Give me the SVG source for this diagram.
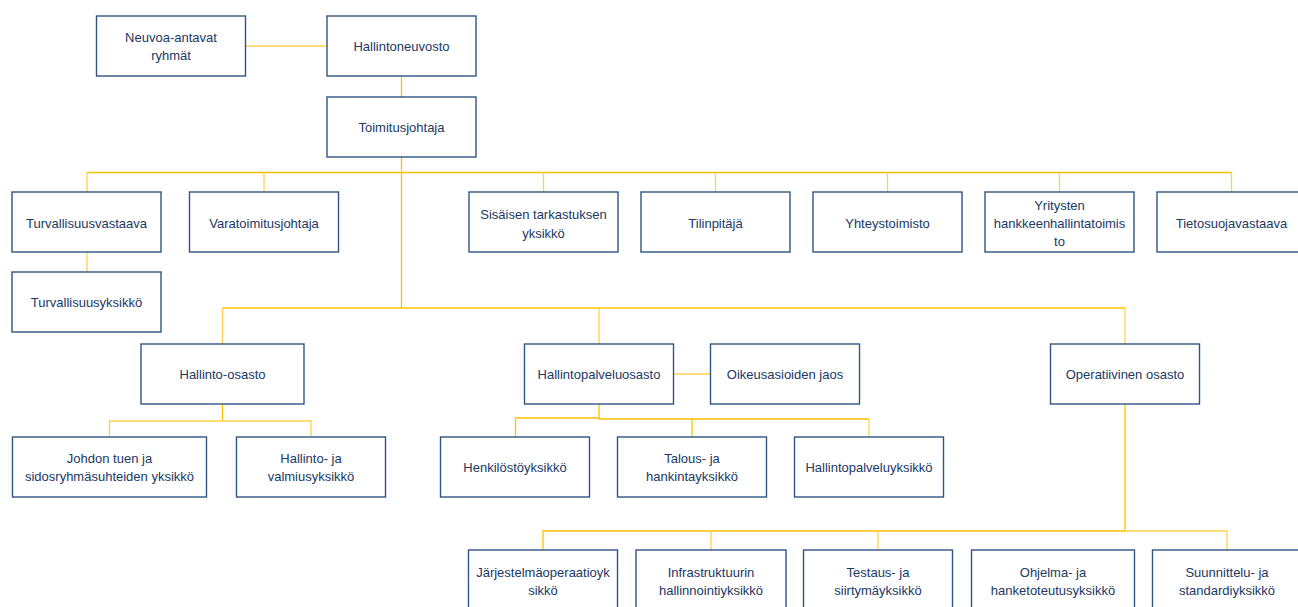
<svg xmlns="http://www.w3.org/2000/svg" width="1298" height="607" viewBox="0 0 1298 607">
<style>
.box{fill:#ffffff;stroke:#2E5482;stroke-width:1.4}
.t{font-family:"Liberation Sans",Arial,sans-serif;font-size:13px;fill:#203864;text-anchor:middle}
.c{fill:none;stroke:#FFC000;stroke-width:1.3}
.cl{fill:none;stroke:#FFD24D;stroke-width:1.3}
</style>
<rect width="1298" height="607" fill="#ffffff"/>
<g id="connectors">
<path class="cl" d="M245.5,46H327"/>
<path class="c" d="M401.5,76V97"/>
<path class="c" d="M401.5,157V308"/>
<path class="c" d="M87,172.5H1232"/>
<path class="cl" d="M87,172.5V192M264,172.5V192M543.5,172.5V192M715.5,172.5V192M887.5,172.5V192M1059.5,172.5V192M1231.5,172.5V192"/>
<path class="cl" d="M87,252V272"/>
<path class="c" d="M222.5,308H1125"/>
<path class="cl" d="M222.5,308V344M599,308V344M1125,308V344"/>
<path class="c" d="M222.5,404V421"/>
<path class="cl" d="M109.5,437V421H311V437"/>
<path class="c" d="M599,404V419H869"/>
<path class="c" d="M515.5,437V418H599"/>
<path class="c" d="M692,419V437"/>
<path class="cl" d="M869,419V437"/>
<path class="cl" d="M673.5,374H710.5"/>
<path class="c" d="M1125,404V531H543V550"/>
<path class="cl" d="M711,531V550M878,531V550M1125,531H1227V550"/>
</g>
<g id="n_neuvoa"><rect class="box" x="96.5" y="16" width="149" height="60"/><text class="t" x="171" y="42">Neuvoa-antavat</text><text class="t" x="171" y="60">ryhmät</text></g>
<g id="n_hallintoneuvosto"><rect class="box" x="327" y="16" width="149" height="60"/><text class="t" x="401.5" y="51">Hallintoneuvosto</text></g>
<g id="n_toimitusjohtaja"><rect class="box" x="327" y="97" width="149" height="60"/><text class="t" x="401.5" y="132">Toimitusjohtaja</text></g>
<g id="n_turvallisuusvastaava"><rect class="box" x="12" y="192" width="149" height="60"/><text class="t" x="86.5" y="228">Turvallisuusvastaava</text></g>
<g id="n_varatoimitusjohtaja"><rect class="box" x="189.5" y="192" width="149" height="60"/><text class="t" x="264" y="228">Varatoimitusjohtaja</text></g>
<g id="n_sisaisen"><rect class="box" x="469" y="192" width="149" height="60"/><text class="t" x="543.5" y="219">Sisäisen tarkastuksen</text><text class="t" x="543.5" y="237.5">yksikkö</text></g>
<g id="n_tilinpitaja"><rect class="box" x="641" y="192" width="149" height="60"/><text class="t" x="715.5" y="228">Tilinpitäjä</text></g>
<g id="n_yhteystoimisto"><rect class="box" x="813" y="192" width="149" height="60"/><text class="t" x="887.5" y="228">Yhteystoimisto</text></g>
<g id="n_yritysten"><rect class="box" x="985" y="192" width="149" height="60"/><text class="t" x="1059.5" y="210">Yritysten</text><text class="t" x="1059.5" y="228">hankkeenhallintatoimis</text><text class="t" x="1059.5" y="246">to</text></g>
<g id="n_tietosuojavastaava"><rect class="box" x="1157" y="192" width="149" height="60"/><text class="t" x="1231.5" y="228">Tietosuojavastaava</text></g>
<g id="n_turvallisuusyksikko"><rect class="box" x="12" y="272" width="149" height="60"/><text class="t" x="86.5" y="307">Turvallisuusyksikkö</text></g>
<g id="n_hallinto_osasto"><rect class="box" x="141" y="344" width="163" height="60"/><text class="t" x="222.5" y="379">Hallinto-osasto</text></g>
<g id="n_hallintopalveluosasto"><rect class="box" x="524.5" y="344" width="149" height="60"/><text class="t" x="599" y="379">Hallintopalveluosasto</text></g>
<g id="n_oikeusasioiden"><rect class="box" x="710.5" y="344" width="149" height="60"/><text class="t" x="785" y="379">Oikeusasioiden jaos</text></g>
<g id="n_operatiivinen"><rect class="box" x="1050.5" y="344" width="149" height="60"/><text class="t" x="1125" y="379">Operatiivinen osasto</text></g>
<g id="n_johdon"><rect class="box" x="12.5" y="437" width="194" height="60"/><text class="t" x="109.5" y="463">Johdon tuen ja</text><text class="t" x="109.5" y="481">sidosryhmäsuhteiden yksikkö</text></g>
<g id="n_hallinto_ja"><rect class="box" x="236.5" y="437" width="149" height="60"/><text class="t" x="311" y="463">Hallinto- ja</text><text class="t" x="311" y="481">valmiusyksikkö</text></g>
<g id="n_henkilosto"><rect class="box" x="440.5" y="437" width="149" height="60"/><text class="t" x="515" y="472">Henkilöstöyksikkö</text></g>
<g id="n_talous"><rect class="box" x="617.5" y="437" width="149" height="60"/><text class="t" x="692" y="463">Talous- ja</text><text class="t" x="692" y="481">hankintayksikkö</text></g>
<g id="n_hallintopalveluyksikko"><rect class="box" x="794.5" y="437" width="149" height="60"/><text class="t" x="869" y="472">Hallintopalveluyksikkö</text></g>
<g id="n_jarjestelma"><rect class="box" x="468.5" y="550" width="149" height="60"/><text class="t" x="543" y="577">Järjestelmäoperaatioyk</text><text class="t" x="543" y="595">sikkö</text></g>
<g id="n_infrastruktuuri"><rect class="box" x="636" y="550" width="150" height="60"/><text class="t" x="711" y="577">Infrastruktuurin</text><text class="t" x="711" y="595">hallinnointiyksikkö</text></g>
<g id="n_testaus"><rect class="box" x="803.5" y="550" width="149" height="60"/><text class="t" x="878" y="577">Testaus- ja</text><text class="t" x="878" y="595">siirtymäyksikkö</text></g>
<g id="n_ohjelma"><rect class="box" x="971.5" y="550" width="163" height="60"/><text class="t" x="1053" y="577">Ohjelma- ja</text><text class="t" x="1053" y="595">hanketoteutusyksikkö</text></g>
<g id="n_suunnittelu"><rect class="box" x="1152.5" y="550" width="149" height="60"/><text class="t" x="1227" y="577">Suunnittelu- ja</text><text class="t" x="1227" y="595">standardiyksikkö</text></g>
</svg>
